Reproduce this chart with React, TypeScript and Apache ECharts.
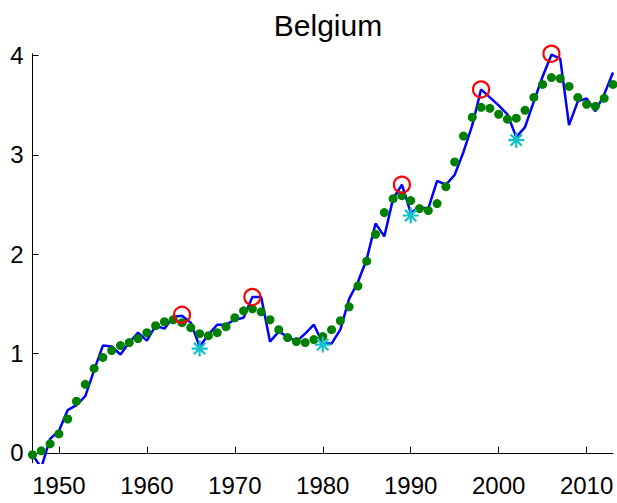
import React, { useEffect, useRef } from "react";
import * as echarts from "echarts";

const years: number[] = [];
for (let y = 1947; y <= 2013; y++) years.push(y);

const actual = [
  -0.02, -0.15, 0.14, 0.22, 0.43, 0.48, 0.57, 0.83, 1.08, 1.07,
  0.99, 1.11, 1.21, 1.13, 1.28, 1.25, 1.37, 1.38, 1.31, 1.07,
  1.19, 1.29, 1.29, 1.34, 1.36, 1.57, 1.57, 1.12, 1.22, 1.17,
  1.12, 1.20, 1.29, 1.10, 1.10, 1.24, 1.55, 1.72, 1.95, 2.31,
  2.18, 2.56, 2.70, 2.42, 2.47, 2.46, 2.74, 2.70, 2.80, 3.03,
  3.30, 3.66, 3.58, 3.50, 3.41, 3.18, 3.28, 3.54, 3.79, 4.01,
  3.97, 3.30, 3.54, 3.57, 3.44, 3.61, 3.83,
];

const trend = [
  -0.02, 0.02, 0.09, 0.19, 0.34, 0.52, 0.69, 0.85, 0.96, 1.03,
  1.08, 1.11, 1.15, 1.21, 1.28, 1.32, 1.34, 1.31, 1.26, 1.20,
  1.18, 1.21, 1.27, 1.36, 1.43, 1.45, 1.42, 1.34, 1.24, 1.16,
  1.12, 1.11, 1.14, 1.17, 1.24, 1.33, 1.47, 1.68, 1.93, 2.20,
  2.42, 2.56, 2.59, 2.54, 2.46, 2.44, 2.51, 2.68, 2.93, 3.19,
  3.38, 3.48, 3.47, 3.41, 3.36, 3.37, 3.45, 3.58, 3.71, 3.78,
  3.77, 3.69, 3.58, 3.51, 3.49, 3.57, 3.71,
];

const peakYears = [1964, 1972, 1989, 1998, 2006];
const peakValues = [1.39, 1.57, 2.70, 3.66, 4.02];
const troughYears = [1966, 1980, 1990, 2002];
const troughValues = [1.05, 1.09, 2.39, 3.15];

const xTicks = [1950, 1960, 1970, 1980, 1990, 2000, 2010];
const yTicks = [0, 1, 2, 3, 4];

const FONT = "'Liberation Sans', Arial, Helvetica, sans-serif";
const ASTERISK =
  "path://M0,-10L0,10M-10,0L10,0M-7.07,-7.07L7.07,7.07M-7.07,7.07L7.07,-7.07";

export default function App() {
  const ref = useRef<HTMLDivElement>(null);
  useEffect(() => {
    if (!ref.current) return;
    const chart = echarts.init(ref.current, null, { renderer: "svg" });
    chart.setOption({
      animation: false,
      backgroundColor: "#ffffff",
      title: {
        text: "Belgium",
        left: 323,
        textAlign: "center",
        top: 5,
        textStyle: {
          fontFamily: FONT,
          fontSize: 30,
          fontWeight: "normal",
          color: "#000",
        },
      },
      grid: { left: 32.5, right: 4, top: 53.7, bottom: 40.3 },
      xAxis: {
        type: "value",
        min: 1947,
        max: 2013,
        splitLine: { show: false },
        axisLine: { show: true, lineStyle: { color: "#000", width: 1 } },
        axisTick: {
          show: true,
          inside: true,
          length: 6,
          customValues: xTicks,
          lineStyle: { color: "#000" },
        },
        axisLabel: {
          customValues: xTicks,
          margin: 11,
          fontFamily: FONT,
          fontSize: 24,
          color: "#000",
          formatter: (v: number) => String(v),
        },
      },
      yAxis: {
        type: "value",
        min: -0.1,
        max: 4.02,
        splitLine: { show: false },
        axisLine: { show: true, lineStyle: { color: "#000", width: 1 } },
        axisTick: {
          show: true,
          inside: true,
          length: 6,
          customValues: yTicks,
          lineStyle: { color: "#000" },
        },
        axisLabel: {
          customValues: yTicks,
          margin: 9,
          fontFamily: FONT,
          fontSize: 24,
          color: "#000",
          formatter: (v: number) => String(v),
        },
      },
      series: [
        {
          type: "line",
          data: years.map((y, i) => [y, actual[i]]),
          showSymbol: false,
          symbol: "none",
          clip: true,
          lineStyle: { color: "#0000ff", width: 2.5 },
          z: 2,
        },
        {
          type: "scatter",
          data: years.map((y, i) => [y, trend[i]]),
          symbol: "circle",
          symbolSize: 9,
          clip: false,
          itemStyle: { color: "#008000", opacity: 1 },
          z: 3,
        },
        {
          type: "scatter",
          data: peakYears.map((y, i) => [y, peakValues[i]]),
          symbol: "circle",
          symbolSize: 16,
          clip: false,
          itemStyle: {
            color: "none",
            borderColor: "#ff0000",
            borderWidth: 2.2,
            opacity: 1,
          },
          z: 4,
        },
        {
          type: "scatter",
          data: troughYears.map((y, i) => [y, troughValues[i]]),
          symbol: ASTERISK,
          symbolSize: 16,
          clip: false,
          itemStyle: {
            color: "none",
            borderColor: "#12c2c8",
            borderWidth: 2.2,
            opacity: 1,
          },
          z: 4,
        },
      ],
    });
    return () => chart.dispose();
  }, []);
  return (
    <div
      ref={ref}
      style={{ position: "absolute", left: 0, top: 0, width: 617, height: 503 }}
    />
  );
}
